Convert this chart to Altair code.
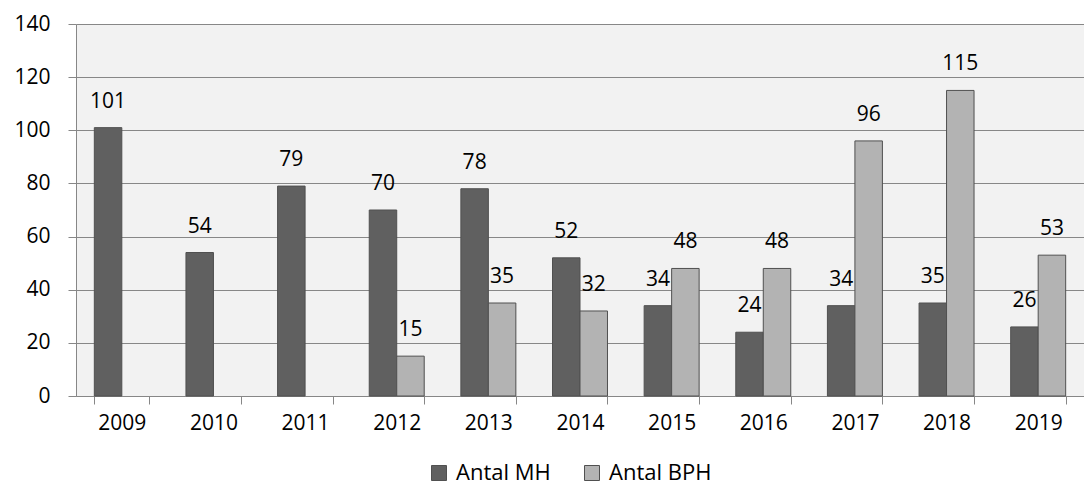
import altair as alt
import pandas as pd

years = ["2009", "2010", "2011", "2012", "2013", "2014", "2015", "2016", "2017", "2018", "2019"]
antal_mh = [101, 54, 79, 70, 78, 52, 34, 24, 34, 35, 26]
antal_bph = [None, None, None, 15, 35, 32, 48, 48, 96, 115, 53]
series_names = ["Antal MH", "Antal BPH"]
y_ticks = [0, 20, 40, 60, 80, 100, 120, 140]

rows = []
for i, yr in enumerate(years):
    rows.append({"year": yr, "series": series_names[0], "value": antal_mh[i]})
    if antal_bph[i] is not None:
        rows.append({"year": yr, "series": series_names[1], "value": antal_bph[i]})
df = pd.DataFrame(rows)

FONT = "Open Sans"
GRAY = "#878787"

x_enc = alt.X(
    "year:N",
    sort=years,
    title=None,
    scale=alt.Scale(paddingInner=0.4, paddingOuter=0.2),
    axis=alt.Axis(labelAngle=0, tickBand="extent", tickSize=8, labelPadding=8,
                  grid=False, domainColor=GRAY, tickColor=GRAY),
)
xoff_enc = alt.XOffset("series:N", sort=series_names,
                       scale=alt.Scale(domain=series_names, paddingInner=0, paddingOuter=0))
y_enc = alt.Y(
    "value:Q",
    scale=alt.Scale(domain=[0, 140]),
    axis=alt.Axis(values=y_ticks, title=None, tickSize=8, labelPadding=18,
                  grid=True, gridColor=GRAY, gridOpacity=1, domainColor=GRAY, tickColor=GRAY),
)

bars = alt.Chart(df).mark_bar(stroke="#505050", strokeWidth=1).encode(
    x=x_enc,
    xOffset=xoff_enc,
    y=y_enc,
    color=alt.Color(
        "series:N",
        sort=series_names,
        scale=alt.Scale(domain=series_names, range=["#606060", "#b3b3b3"]),
        legend=alt.Legend(
            title=None, orient="none", legendX=352, legendY=438, direction="horizontal",
            symbolType="square", symbolSize=225, symbolStrokeColor="#505050",
            symbolStrokeWidth=1, symbolOpacity=1, labelFont=FONT, labelFontSize=22,
            labelColor="#000000", labelOffset=6, columnPadding=30, padding=0,
        ),
    ),
)

labels = alt.Chart(df).mark_text(
    dy=-26, baseline="middle", align="center", font=FONT, fontSize=21, color="#000000"
).encode(
    x=x_enc,
    xOffset=xoff_enc,
    y=alt.Y("value:Q"),
    text=alt.Text("value:Q"),
)

chart = alt.layer(bars, labels).properties(
    width=1008,
    height=372,
    padding={"left": 68, "top": 16, "right": 0, "bottom": 99},
    autosize=alt.AutoSizeParams(type="none"),
    background="#ffffff",
).configure_view(
    fill="#f2f2f2", stroke="transparent"
).configure_axis(
    labelFont=FONT, labelFontSize=21, labelColor="#000000"
)

chart.save("out.html", embed_options={"renderer": "svg", "actions": False})
